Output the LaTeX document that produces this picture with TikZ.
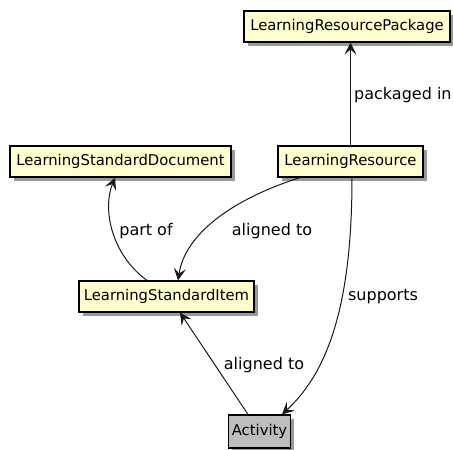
\documentclass[tikz,border=0pt]{standalone}
\usepackage{fontspec}
\setmainfont{DejaVu Sans}
\usetikzlibrary{arrows.meta,shadows}
\definecolor{cls}{HTML}{FEFECE}
\definecolor{actfill}{HTML}{BDBDBD}
\tikzset{
  box/.style={draw=black, line width=1.2pt, fill=cls, inner sep=0pt, minimum height=31pt,
    font=\fontsize{14.8}{16}\selectfont,
    drop shadow={shadow xshift=3.5pt, shadow yshift=-3.5pt, opacity=0.4, fill=black}},
  actbox/.style={box, fill=actfill, minimum height=33pt},
  conn/.style={line width=1pt, draw=black!90, -{Stealth[length=12pt,width=12pt,inset=5pt]}},
  lbl/.style={font=\fontsize{16}{18}\selectfont, inner sep=0pt}
}
\begin{document}
\begin{tikzpicture}[x=1pt,y=-1pt]
\useasboundingbox (0,0) rectangle (453,450);
\node[box, minimum width=206pt] (lrp) at (347,26.5) {LearningResourcePackage};
\node[box, minimum width=221pt] (lsd) at (120.5,161.5) {LearningStandardDocument};
\node[box, minimum width=145pt] (lr) at (350.5,161.5) {LearningResource};
\node[box, minimum width=175pt] (lsi) at (166.5,296.5) {LearningStandardItem};
\node[actbox, minimum width=62pt] (act) at (259.5,431.5) {Activity};

\draw[conn] (lr.north) -- (lr.north |- lrp.south);
\node[lbl, anchor=west] (l1) at (354,95) {packaged in};

\draw[conn] ([xshift=-19.5pt]lsi.north) .. controls (112,255) and (102,210) .. ([xshift=-5.5pt]lsd.south);
\node[lbl] (l2) at (146,231) {part of};

\draw[conn] ([xshift=-50.5pt]lr.south) .. controls (230,200) and (185,235) .. ([xshift=11.5pt]lsi.north);
\node[lbl] (l3) at (272,231) {aligned to};

\draw[conn] ([xshift=1.5pt]lr.south) .. controls (352,300) and (330,370) .. ([xshift=22.5pt]act.north);
\node[lbl] (l4) at (383,297) {supports};

\draw[conn] ([xshift=-11.5pt]act.north) -- ([xshift=13.5pt]lsi.south);
\node[lbl] (l5) at (264,365) {aligned to};
\end{tikzpicture}
\end{document}
